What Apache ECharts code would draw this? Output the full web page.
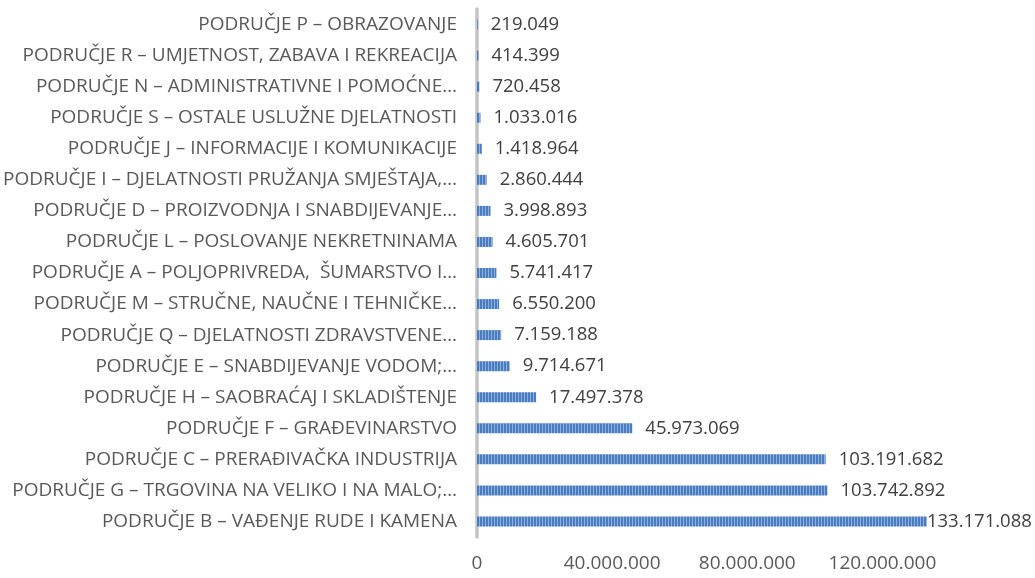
<!DOCTYPE html>
<html>
<head>
<meta charset="utf-8">
<script src="https://cdn.jsdelivr.net/npm/echarts@6/dist/echarts.min.js"></script>
<style>
  html, body { margin: 0; padding: 0; background: #fff; }
  #chart { width: 1035px; height: 578px; }
</style>
</head>
<body>
<div id="chart"></div>
<script>
// categories, top to bottom
const categories = [
  'PODRUČJE P – OBRAZOVANJE',
  'PODRUČJE R – UMJETNOST, ZABAVA I REKREACIJA',
  'PODRUČJE N – ADMINISTRATIVNE I POMOĆNE…',
  'PODRUČJE S – OSTALE USLUŽNE DJELATNOSTI',
  'PODRUČJE J – INFORMACIJE I KOMUNIKACIJE',
  'PODRUČJE I – DJELATNOSTI PRUŽANJA SMJEŠTAJA,…',
  'PODRUČJE D – PROIZVODNJA I SNABDIJEVANJE…',
  'PODRUČJE L – POSLOVANJE NEKRETNINAMA',
  'PODRUČJE A – POLJOPRIVREDA,  ŠUMARSTVO I…',
  'PODRUČJE M – STRUČNE, NAUČNE I TEHNIČKE…',
  'PODRUČJE Q – DJELATNOSTI ZDRAVSTVENE…',
  'PODRUČJE E – SNABDIJEVANJE VODOM;…',
  'PODRUČJE H – SAOBRAĆAJ I SKLADIŠTENJE',
  'PODRUČJE F – GRAĐEVINARSTVO',
  'PODRUČJE C – PRERAĐIVAČKA INDUSTRIJA',
  'PODRUČJE G – TRGOVINA NA VELIKO I NA MALO;…',
  'PODRUČJE B – VAĐENJE RUDE I KAMENA'
]
const values = [
  219049, 414399, 720458, 1033016, 1418964, 2860444, 3998893, 4605701,
  5741417, 6550200, 7159188, 9714671, 17497378, 45973069, 103191682,
  103742892, 133171088
]

const fmt = (n) => String(Math.round(n)).replace(/\B(?=(\d{3})+(?!\d))/g, '.')

// striped fill like the original
const pat = document.createElement('canvas')
pat.width = 3
pat.height = 4
const pctx = pat.getContext('2d')
pctx.fillStyle = '#8fb0dc'
pctx.fillRect(0, 0, 3, 4)
pctx.fillStyle = '#4a7dc0'
pctx.fillRect(0, 0, 2, 4)

const textColor = '#595959'
const font = 'Open Sans'

const chart = echarts.init(document.getElementById('chart'))
chart.setOption({
  animation: false,
  grid: { left: 475, right: 85, top: 9, bottom: 41, containLabel: false },
  xAxis: {
    type: 'value',
    min: 0,
    max: 140000000,
    interval: 40000000,
    axisLine: { show: false },
    axisTick: { show: false },
    splitLine: { show: false },
    axisLabel: {
      color: textColor,
      fontFamily: font,
      fontSize: 19,
      margin: 17,
      formatter: (v) => fmt(v)
    }
  },
  yAxis: {
    type: 'category',
    inverse: true,
    data: categories,
    axisLine: { show: true, lineStyle: { color: '#c4c4c4', width: 3.5 } },
    axisTick: { show: false },
    axisLabel: {
      color: textColor,
      fontFamily: font,
      fontSize: 19,
      margin: 20
    }
  },
  series: [{
    type: 'bar',
    barWidth: 10,
    data: values.map((v, i) => ({
      value: v,
      label: i === values.length - 1 ? { distance: 0 } : undefined
    })),
    itemStyle: { color: { image: pat, repeat: 'repeat' } },
    label: {
      show: true,
      position: 'right',
      distance: 13,
      color: '#404040',
      fontFamily: font,
      fontSize: 18.5,
      formatter: (p) => fmt(p.value)
    }
  }]
})
</script>
</body>
</html>
